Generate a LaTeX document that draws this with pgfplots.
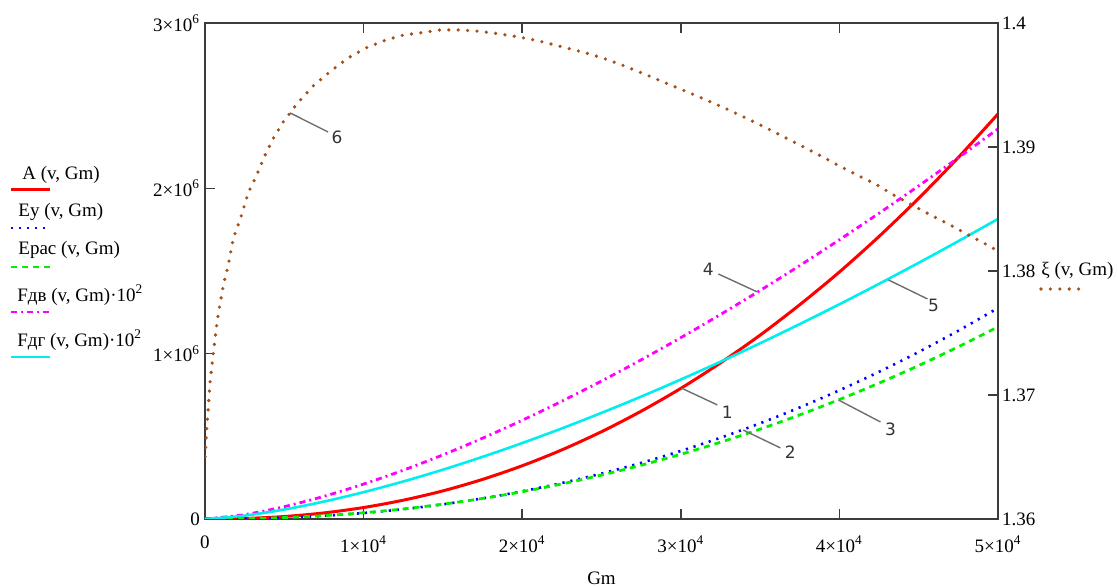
\documentclass[border=0pt]{standalone}
\usepackage{fontspec}
\setmainfont{Liberation Serif}
\setsansfont{DejaVu Sans}
\usepackage{pgfplots}
\pgfplotsset{compat=1.18}
\definecolor{xibrown}{RGB}{165,80,25}
\definecolor{axgray}{RGB}{60,60,60}
\definecolor{leadgray}{RGB}{110,110,110}
\definecolor{mygreen}{RGB}{0,240,0}
\definecolor{mycyan}{RGB}{0,238,238}
\definecolor{mymag}{RGB}{255,0,255}
\begin{document}
\begin{tikzpicture}[font=\fontsize{9.5}{10.5}\selectfont]
\useasboundingbox (-102.5pt,-34pt) rectangle (456.5pt,259.5pt);
\begin{axis}[
  scale only axis, width=396.5pt, height=248pt,
  xmin=0, xmax=50000, ymin=0, ymax=3000000,
  axis line style={axgray, line width=1pt},
  scaled ticks=false,
  xtick={0,10000,20000,30000,40000,50000},
  xticklabels={0,1×10\textsuperscript{4},2×10\textsuperscript{4},3×10\textsuperscript{4},4×10\textsuperscript{4},5×10\textsuperscript{4}},
  ytick={0,1000000,2000000,3000000},
  yticklabels={0,1×10\textsuperscript{6},2×10\textsuperscript{6},3×10\textsuperscript{6}},
  tick style={axgray, line width=0.8pt},
  major tick length=5pt,
  tick align=inside,
  xtick pos=both, ytick pos=left,
  xticklabel style={yshift=-5pt},
  yticklabel style={xshift=1pt},
  xlabel={Gm},
  xlabel style={at={(axis description cs:0.5,0)}, anchor=center, yshift=-29.5pt},
]
\addplot[red, line width=1.5pt, smooth] coordinates {
(0,0) (2500,3200) (5000,14900) (7500,36700) (10000,69400) (12500,113700) (15000,170000) (17500,239500) (20000,322000) (22500,418000) (25000,528000) (27500,652000) (30000,790000) (32500,944000) (35000,1112000) (37500,1296000) (40000,1494000) (42500,1709000) (45000,1940000) (47500,2187000) (50000,2450000)};
\addplot[blue, line width=1.3pt, dash pattern=on 1.1pt off 2.9pt, smooth] coordinates {
(0,0) (2500,1670) (5000,7780) (7500,19100) (10000,36100) (12500,59200) (15000,88700) (17500,124700) (20000,167700) (22500,217700) (25000,274900) (27500,339400) (30000,411600) (32500,491400) (35000,579000) (37500,674700) (40000,778400) (42500,890300) (45000,1010300) (47500,1139000) (50000,1276000)};
\addplot[mygreen, line width=1.4pt, dash pattern=on 3pt off 2.5pt, smooth] coordinates {
(0,0) (2500,1970) (5000,8620) (7500,20400) (10000,37700) (12500,60700) (15000,89400) (17500,124200) (20000,165000) (22500,212100) (25000,265500) (27500,325300) (30000,391500) (32500,464200) (35000,543500) (37500,629600) (40000,722500) (42500,822000) (45000,928300) (47500,1041700) (50000,1162000)};
\addplot[mymag, line width=1.4pt, dash pattern=on 3pt off 2pt on 1pt off 2pt, smooth] coordinates {
(0,0) (2500,26400) (5000,74600) (7500,137100) (10000,211100) (12500,295000) (15000,387800) (17500,488700) (20000,597000) (22500,712400) (25000,834400) (27500,962600) (30000,1096800) (32500,1236700) (35000,1382200) (37500,1532900) (40000,1688700) (42500,1849500) (45000,2015000) (47500,2185200) (50000,2360000)};
\addplot[mycyan, line width=1.3pt, smooth] coordinates {
(0,0) (2500,20300) (5000,57400) (7500,105400) (10000,162300) (12500,226900) (15000,298200) (17500,375900) (20000,459200) (22500,547900) (25000,641800) (27500,740300) (30000,843600) (32500,951100) (35000,1063000) (37500,1178800) (40000,1298600) (42500,1422400) (45000,1549600) (47500,1680500) (50000,1815000)};
% leader lines and numbers
\begin{scope}[leadgray, line width=0.7pt]
\draw (axis cs:5363,2456000) -- (axis cs:7760,2341000);
\draw (axis cs:32366,1482000) -- (axis cs:34827,1373000);
\draw (axis cs:30032,792000) -- (axis cs:32303,690000);
\draw (axis cs:33943,538000) -- (axis cs:36278,430000);
\draw (axis cs:39937,720000) -- (axis cs:42587,587000);
\draw (axis cs:43091,1446000) -- (axis cs:45552,1331000);
\end{scope}
\begin{scope}[every node/.style={font=\sffamily\fontsize{8.5}{9}\selectfont, text=black!80, inner sep=0pt}]
\node at (axis cs:8328,2311000) {6};
\node at (axis cs:31735,1512000) {4};
\node at (axis cs:32934,647000) {1};
\node at (axis cs:36909,405000) {2};
\node at (axis cs:43218,544000) {3};
\node at (axis cs:45931,1289000) {5};
\end{scope}
\end{axis}
\begin{axis}[
  scale only axis, width=396.5pt, height=248pt,
  xmin=0, xmax=50000, ymin=1.36, ymax=1.4,
  hide x axis,
  axis y line*=right,
  axis line style={axgray, line width=1pt},
  ytick={1.36,1.37,1.38,1.39,1.4},
  yticklabels={1.36,1.37,1.38,1.39,1.4},
  tick style={axgray, line width=0.8pt},
  major tick length=5pt,
  tick align=inside,
  yticklabel style={xshift=-1.5pt},
]
\addplot[xibrown, line width=1.8pt, dash pattern=on 0pt off 4.7pt, line cap=round] coordinates {
(0,1.36502) (107,1.36718) (315,1.37097) (524,1.37339) (776,1.37605) (1155,1.37887) (1470,1.38048) (1785,1.38266) (2208,1.38411) (2732,1.38631) (3262,1.38774) (3741,1.38922) (4309,1.39070) (4940,1.39204) (5823,1.39352) (6833,1.39494) (7950,1.39615) (9085,1.39723) (10240,1.39804) (11420,1.39863) (12511,1.39903) (13672,1.39922) (14826,1.39944) (15943,1.39944) (17098,1.39935) (18297,1.39917) (19413,1.39895) (20549,1.39869) (21659,1.39836) (22858,1.39796) (23975,1.39760) (25129,1.39715) (26290,1.39661) (27445,1.39602) (28599,1.39540) (29716,1.39481) (30871,1.39419) (32006,1.39357) (33123,1.39293) (34278,1.39223) (35438,1.39151) (36549,1.39078) (37710,1.39002) (38845,1.38927) (40000,1.38847) (41117,1.38774) (42271,1.38702) (43426,1.38613) (44587,1.38532) (45741,1.38452) (46896,1.38377) (48057,1.38296) (49211,1.38218) (50000,1.38161)};
\end{axis}
% legend (left) and right-axis label
\node[anchor=west, inner sep=0pt] at (-91.5pt,172pt) {A (v, Gm)};
\draw[red, line width=1.5pt] (-97pt,164.5pt) -- (-77.5pt,164.5pt);
\node[anchor=west, inner sep=0pt] at (-93.5pt,153.5pt) {Eу (v, Gm)};
\draw[blue, line width=1.3pt, dash pattern=on 1.1pt off 2.9pt] (-97pt,145.5pt) -- (-77.5pt,145.5pt);
\node[anchor=west, inner sep=0pt] at (-93.5pt,134.5pt) {Eрас (v, Gm)};
\draw[mygreen, line width=1.4pt, dash pattern=on 3pt off 2.5pt] (-97pt,126pt) -- (-77.5pt,126pt);
\node[anchor=west, inner sep=0pt] at (-94pt,112pt) {Fдв (v, Gm)·10\textsuperscript{2}};
\draw[mymag, line width=1.4pt, dash pattern=on 3pt off 2pt on 1pt off 2pt] (-97pt,103.5pt) -- (-77.5pt,103.5pt);
\node[anchor=west, inner sep=0pt] at (-94pt,89.5pt) {Fдг (v, Gm)·10\textsuperscript{2}};
\draw[mycyan, line width=1.3pt] (-97pt,81pt) -- (-77.5pt,81pt);
\node[anchor=west, inner sep=0pt] at (418pt,124pt) {ξ (v, Gm)};
\draw[xibrown, line width=1.8pt, dash pattern=on 0pt off 4.7pt, line cap=round] (418pt,115pt) -- (438pt,115pt);
\end{tikzpicture}
\end{document}
